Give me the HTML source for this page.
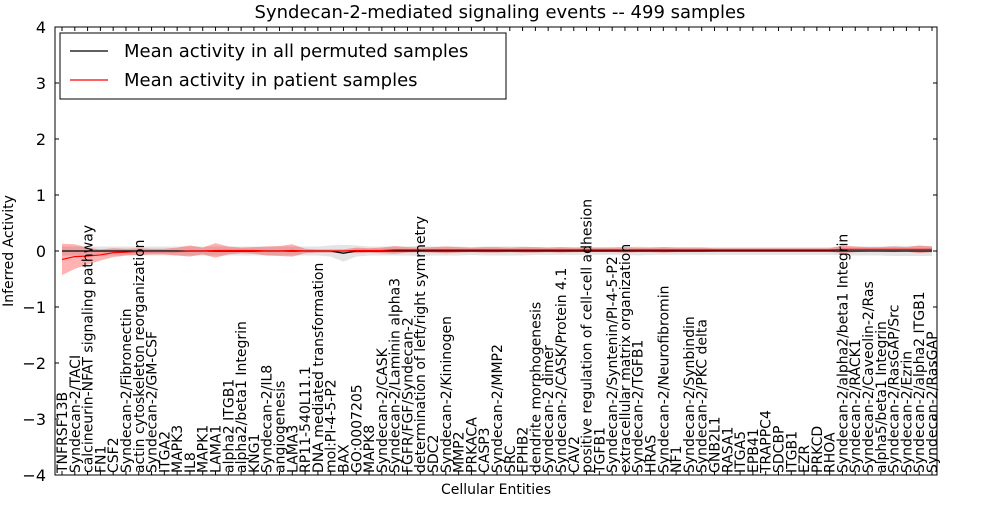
<!DOCTYPE html>
<html><head><meta charset="utf-8"><style>
body{margin:0;background:#fff;}
svg text{font-family:"DejaVu Sans","Liberation Sans",sans-serif;}
</style></head><body>
<svg id="chart" width="1000" height="500">
<rect width="1000" height="500" fill="#fff"/>
<text x="500" y="18" font-size="18" text-anchor="middle">Syndecan-2-mediated signaling events -- 499 samples</text>
<text x="496" y="494" font-size="14" text-anchor="middle">Cellular Entities</text>
<text transform="translate(13,251) rotate(-90)" font-size="14" text-anchor="middle">Inferred Activity</text>
<g id="bands"></g><g id="lines"></g><g id="ticks"></g>
<rect x="55" y="27" width="882" height="448" fill="none" stroke="#000" stroke-width="1"/>
<g>
<rect x="60" y="33" width="446" height="66" fill="#fff" stroke="#000"/>
<line x1="70" y1="51" x2="108" y2="51" stroke="#000" stroke-width="1.2"/>
<text x="124" y="57" font-size="18">Mean activity in all permuted samples</text>
<line x1="70" y1="80" x2="108" y2="80" stroke="#f00" stroke-width="1.2"/>
<text x="124" y="86" font-size="18">Mean activity in patient samples</text>
</g>
</svg>
<script>
const categories=["TNFRSF13B","Syndecan-2/TACI","calcineurin-NFAT signaling pathway","FN1","CSF2","Syndecan-2/Fibronectin","actin cytoskeleton reorganization","Syndecan-2/GM-CSF","ITGA2","MAPK3","IL8","MAPK1","LAMA1","alpha2 ITGB1","alpha2/beta1 Integrin","KNG1","Syndecan-2/IL8","angiogenesis","LAMA3","RP11-540L11.1","DNA mediated transformation","mol:PI-4-5-P2","BAX","GO:0007205","MAPK8","Syndecan-2/CASK","Syndecan-2/Laminin alpha3","FGFR/FGF/Syndecan-2","determination of left/right symmetry","SDC2","Syndecan-2/Kininogen","MMP2","PRKACA","CASP3","Syndecan-2/MMP2","SRC","EPHB2","dendrite morphogenesis","Syndecan-2 dimer","Syndecan-2/CASK/Protein 4.1","CAV2","positive regulation of cell-cell adhesion","TGFB1","Syndecan-2/Syntenin/PI-4-5-P2","extracellular matrix organization","Syndecan-2/TGFB1","HRAS","Syndecan-2/Neurofibromin","NF1","Syndecan-2/Synbindin","Syndecan-2/PKC delta","GNB2L1","RASA1","ITGA5","EPB41","TRAPPC4","SDCBP","ITGB1","EZR","PRKCD","RHOA","Syndecan-2/alpha2/beta1 Integrin","Syndecan-2/RACK1","Syndecan-2/Caveolin-2/Ras","alpha5/beta1 Integrin","Syndecan-2/RasGAP/Src","Syndecan-2/Ezrin","Syndecan-2/alpha2 ITGB1","Syndecan-2/RasGAP"];
const patientMean=[-0.15,-0.1,-0.09,-0.07,-0.03,-0.02,-0.01,-0.01,-0.01,-0.01,0,0,0.01,0.01,0.01,0.01,0,0,0.01,0,0,0,0,0.01,0.01,0.01,0.02,0.02,0.02,0.02,0.02,0.02,0.02,0.02,0.02,0.02,0.02,0.02,0.02,0.02,0.02,0.02,0.02,0.02,0.02,0.02,0.02,0.02,0.02,0.02,0.02,0.02,0.02,0.02,0.02,0.02,0.02,0.02,0.02,0.02,0.02,0.03,0.03,0.03,0.03,0.03,0.03,0.03,0.03];
const patientSpread=[0.28,0.22,0.15,0.1,0.08,0.06,0.06,0.05,0.05,0.07,0.1,0.06,0.13,0.07,0.05,0.06,0.08,0.09,0.11,0.04,0.03,0.03,0.03,0.05,0.04,0.05,0.07,0.05,0.04,0.05,0.06,0.05,0.04,0.05,0.05,0.04,0.05,0.05,0.04,0.05,0.04,0.04,0.04,0.04,0.05,0.04,0.04,0.05,0.04,0.04,0.04,0.03,0.03,0.03,0.03,0.03,0.03,0.03,0.03,0.03,0.03,0.07,0.05,0.04,0.04,0.05,0.04,0.07,0.05];
const permMean=[0,0,0,0,0,0,0,0,0,0,0,0,0,0,0,0,0,0,0,0,0,0,-0.04,0,0,0,0,0,0,0,0,0,0,0,0,0,0,0,0,0,0,0,0,0,0,0,0,0,0,0,0,0,0,0,0,0,0,0,0,0,0,0,0,0,0,0,0,0,0];
const permSpread=[0.08,0.08,0.08,0.08,0.08,0.08,0.08,0.08,0.08,0.08,0.08,0.08,0.08,0.08,0.08,0.08,0.08,0.08,0.08,0.08,0.08,0.1,0.15,0.1,0.08,0.08,0.08,0.08,0.09,0.08,0.08,0.08,0.07,0.08,0.08,0.08,0.08,0.07,0.07,0.07,0.07,0.07,0.07,0.07,0.07,0.08,0.07,0.07,0.07,0.07,0.07,0.07,0.07,0.07,0.07,0.07,0.07,0.07,0.07,0.07,0.07,0.08,0.08,0.08,0.08,0.09,0.09,0.09,0.09];
const yTicks=[-4,-3,-2,-1,0,1,2,3,4];
const NS="http://www.w3.org/2000/svg";
const x0=62,x1=932,yTop=27,yBot=475;
const xs=i=>x0+(x1-x0)*i/(categories.length-1);
const ys=v=>yBot-(v+4)/8*(yBot-yTop);
function mk(tag,attrs,parent){const e=document.createElementNS(NS,tag);for(const k in attrs)e.setAttribute(k,attrs[k]);parent.appendChild(e);return e;}
const bands=document.getElementById('bands'),lines=document.getElementById('lines'),ticks=document.getElementById('ticks');
function band(m,s,fill,op,name){let up=m.map((v,i)=>xs(i)+','+ys(v+s[i]));let dn=m.map((v,i)=>xs(i)+','+ys(v-s[i])).reverse();
const p=mk('polygon',{points:up.concat(dn).join(' '),fill:fill,'fill-opacity':op},bands);

}
band(permMean,permSpread,'#bbb',0.4,'permuted-band');
band(patientMean,patientSpread,'#f00',0.3,'patient-band');
const pl=mk('polyline',{points:permMean.map((v,i)=>xs(i)+','+ys(v)).join(' '),fill:'none',stroke:'#000','stroke-width':1.2},lines);


const rl=mk('polyline',{points:patientMean.map((v,i)=>xs(i)+','+ys(v)).join(' '),fill:'none',stroke:'#f00','stroke-width':1.2},lines);


yTicks.forEach(v=>{const y=ys(v);
mk('line',{x1:55,x2:59,y1:y,y2:y,stroke:'#000'},ticks);mk('line',{x1:933,x2:937,y1:y,y2:y,stroke:'#000'},ticks);
const t=mk('text',{x:46,y:y+6,'font-size':16,'text-anchor':'end'},ticks);t.textContent=(v<0?'\u2212':'')+Math.abs(v);

});
categories.forEach((c,i)=>{const x=xs(i);
mk('line',{x1:x,x2:x,y1:yBot,y2:yBot-4,stroke:'#000'},ticks);mk('line',{x1:x,x2:x,y1:yTop,y2:yTop+4,stroke:'#000'},ticks);
const t=mk('text',{transform:`translate(${x+5},${yBot-2}) rotate(-90)`,'font-size':14},ticks);t.textContent=c;

});
</script>
</body></html>
